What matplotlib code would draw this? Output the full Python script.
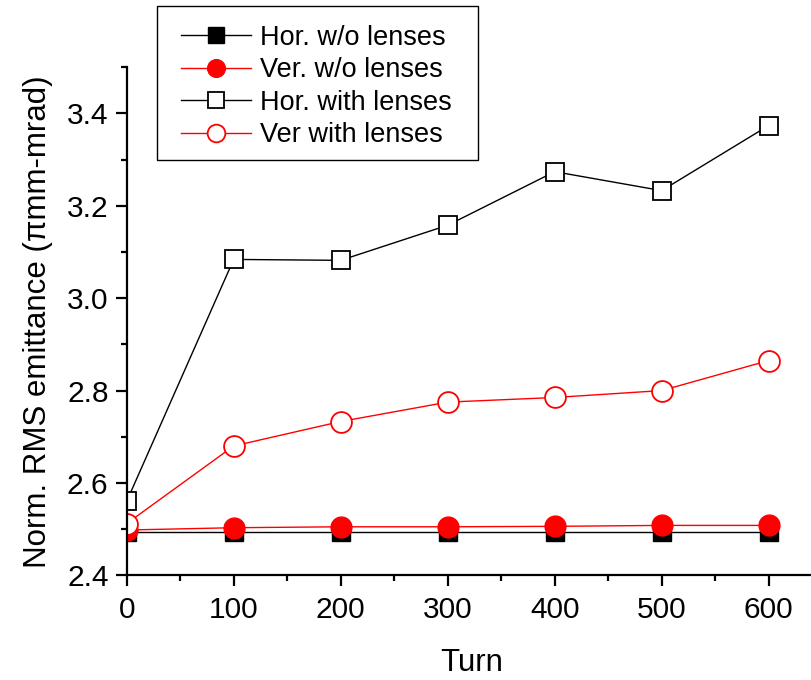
import matplotlib
matplotlib.use("Agg")
import matplotlib.pyplot as plt
from matplotlib.patches import Rectangle
from matplotlib.ticker import MultipleLocator, FormatStrFormatter

plt.rcParams["font.family"] = ["Liberation Sans", "DejaVu Sans"]

# Data
turns = [0, 100, 200, 300, 400, 500, 600]
hor_wo = [2.493, 2.493, 2.493, 2.493, 2.493, 2.493, 2.493]
ver_wo = [2.498, 2.503, 2.505, 2.505, 2.506, 2.508, 2.508]
hor_with = [2.56, 3.084, 3.082, 3.158, 3.274, 3.233, 3.374]
ver_with = [2.512, 2.680, 2.733, 2.775, 2.785, 2.800, 2.865]

fig = plt.figure(figsize=(8.12, 6.8), dpi=100)
ax = fig.add_axes([0.156, 0.154, 0.85, 0.747])

ax.plot(turns, hor_wo, "-s", color="black", lw=1, ms=13,
        mfc="black", mec="black", label="Hor. w/o lenses")
ax.plot(turns, ver_wo, "-o", color="red", lw=1, ms=15,
        mfc="red", mec="red", label="Ver. w/o lenses")
ax.plot(turns, hor_with, "-s", color="black", lw=1, ms=13,
        mfc="white", mec="black", mew=1.3, label="Hor. with lenses")
ax.plot(turns, ver_with, "-o", color="red", lw=1, ms=15,
        mfc="white", mec="red", mew=1.3, label="Ver with lenses")

ax.set_xlim(0, 645)
ax.set_ylim(2.4, 3.5)
ax.xaxis.set_major_locator(MultipleLocator(100))
ax.xaxis.set_minor_locator(MultipleLocator(50))
ax.yaxis.set_major_locator(MultipleLocator(0.2))
ax.yaxis.set_minor_locator(MultipleLocator(0.1))
ax.yaxis.set_major_formatter(FormatStrFormatter("%.1f"))

for s in ["top", "right"]:
    ax.spines[s].set_visible(False)
for s in ["left", "bottom"]:
    ax.spines[s].set_linewidth(1.6)

ax.tick_params(which="major", direction="out", length=8, width=1.6,
               labelsize=21.5, pad=5)
ax.tick_params(axis="x", which="major", pad=7)
ax.tick_params(which="minor", direction="out", length=4, width=1.6)

ax.set_xlabel("Turn", fontsize=22.5, labelpad=17)
ax.set_ylabel("Norm. RMS emittance (\u03c0mm-mrad)", fontsize=22.5, labelpad=10)

# legend without its own frame; box drawn separately (wider side padding)
leg = ax.legend(loc="upper left", bbox_to_anchor=(0.0785, 1.084),
                borderaxespad=0, fontsize=19.5, frameon=False,
                handlelength=2.6, handletextpad=0.33, borderpad=0.0,
                labelspacing=0.24, markerscale=0.85)

fig.canvas.draw()
bb = leg.get_window_extent()
box = Rectangle((bb.x0 - 24, bb.y0 - 12), bb.width + 50, bb.height + 31,
                transform=None, fill=False, edgecolor="black", lw=1.0)
fig.patches.append(box)

fig.savefig("out.png", dpi=100)
